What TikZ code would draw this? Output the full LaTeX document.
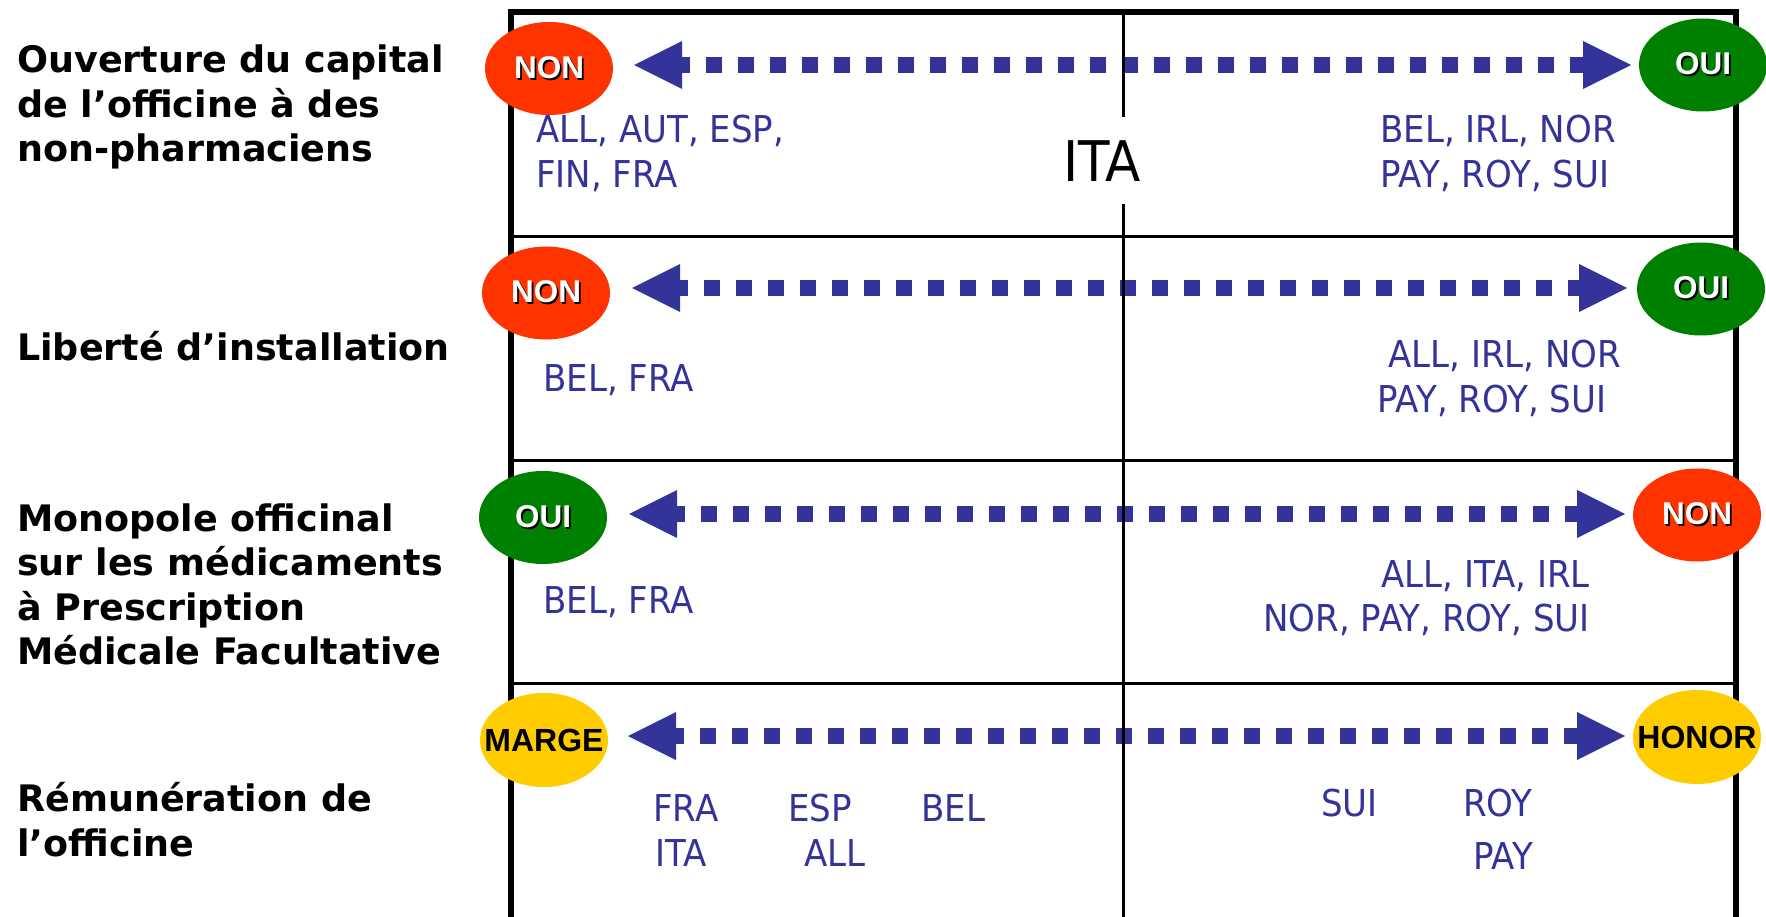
\documentclass[tikz,border=0pt]{standalone}
\usepackage{fontspec}
\setmainfont{DejaVu Sans}
\newfontfamily\bluefont[FakeStretch=0.92]{DejaVu Sans}
\newfontfamily\headfont{DejaVu Sans}
\newfontfamily\ovalfont{Liberation Sans}
\usetikzlibrary{arrows.meta,shapes.geometric}
\definecolor{tblue}{RGB}{51,51,153}
\definecolor{ored}{RGB}{255,51,0}
\definecolor{ogreen}{RGB}{0,128,0}
\definecolor{oyellow}{RGB}{255,204,0}
\newcommand\shtxt[1]{\makebox[0pt]{\rlap{\kern1.8pt\raisebox{-1.8pt}{\color{black}#1}}\color{white}#1}}
\newcommand\bktxt[1]{\makebox[0pt]{\color{black}#1}}
\tikzset{
  oval/.style={ellipse, minimum width=128pt, minimum height=93pt, inner sep=0pt,
    font=\ovalfont\bfseries\fontsize{31.5}{31.5}\selectfont},
  goval/.style={oval, minimum height=94pt, font=\ovalfont\bfseries\fontsize{32}{32}\selectfont},
  country/.style={anchor=base west, inner sep=0pt, text=tblue,
    font=\bluefont\fontsize{37}{44}\selectfont},
  rowlabel/.style={anchor=base west, inner sep=0pt,
    font=\headfont\bfseries\fontsize{36.5}{44}\selectfont},
  frameline/.style={line width=6pt},
  gridline/.style={line width=3pt},
  dblarrow/.style={draw=tblue, line width=16pt, dash pattern=on 16pt off 16pt, dash phase=8pt,
    arrows={Triangle[length=48pt,width=48pt,line width=0pt]-Triangle[length=48pt,width=48pt,line width=0pt]}}
}
\begin{document}
\begin{tikzpicture}[x=1pt,y=-1pt]
\useasboundingbox (0,0) rectangle (1766,917);
% arrows
\coordinate (a1l) at (634,65);  \coordinate (a1r) at (1631,65);
\coordinate (a2l) at (632,288); \coordinate (a2r) at (1627,288);
\coordinate (a3l) at (629,514); \coordinate (a3r) at (1625,514);
\coordinate (a4l) at (628,736); \coordinate (a4r) at (1625,736);
\draw[dblarrow] (a1l) -- (a1r);
\draw[dblarrow] (a2l) -- (a2r);
\draw[dblarrow] (a3l) -- (a3r);
\draw[dblarrow] (a4l) -- (a4r);
% frame and grid
\draw[frameline] (511,917) -- (511,12) -- (1736,12) -- (1736,917);
\draw[gridline] (511,237) -- (1736,237);
\draw[gridline] (511,460.5) -- (1736,460.5);
\draw[gridline] (511,683) -- (1736,683);
\draw[gridline] (1123,12) -- (1123,117);
\draw[gridline] (1123,204) -- (1123,917);
% ovals
\node[oval, fill=ored]    (o1l) at (549,68.5) {\shtxt{NON}};
\node[oval, fill=ogreen]  (o1r) at (1703,65)  {\shtxt{OUI}};
\node[oval, fill=ored]    (o2l) at (546,293)  {\shtxt{NON}};
\node[oval, fill=ogreen]  (o2r) at (1701,289) {\shtxt{OUI}};
\node[oval, fill=ogreen]  (o3l) at (543,517.5) {\shtxt{OUI}};
\node[oval, fill=ored]    (o3r) at (1697,515) {\shtxt{NON}};
\node[goval, fill=oyellow] (o4l) at (544,740) {\bktxt{MARGE}};
\node[goval, fill=oyellow] (o4r) at (1697,737) {\bktxt{HONOR}};
% row labels
\node[rowlabel] (r1a) at (17,73)  {Ouverture du capital};
\node[rowlabel] (r1b) at (17,117.5) {de l’officine à des};
\node[rowlabel] (r1c) at (17,162) {non-pharmaciens};
\node[rowlabel] (r2a) at (17,360) {Liberté d’installation};
\node[rowlabel] (r3a) at (17,531) {Monopole officinal};
\node[rowlabel] (r3b) at (17,575.5) {sur les médicaments};
\node[rowlabel] (r3c) at (17,620) {à Prescription};
\node[rowlabel] (r3d) at (17,664.5) {Médicale Facultative};
\node[rowlabel] (r4a) at (17,811.5) {Rémunération de};
\node[rowlabel] (r4b) at (17,856) {l’officine};
% country texts
\node[country] (c1a) at (536,143) {ALL, AUT, ESP,};
\node[country] (c1b) at (536,188) {FIN, FRA};
\node[country] (c1c) at (1380,143) {BEL, IRL, NOR};
\node[country] (c1d) at (1380,188) {PAY, ROY, SUI};
\node[country, text=black, font=\bluefont\fontsize{56}{60}\selectfont] (ita) at (1063,182) {ITA};
\node[country] (c2a) at (543,391) {BEL, FRA};
\node[country] (c2b) at (1388,367) {ALL, IRL, NOR};
\node[country] (c2c) at (1377,412) {PAY, ROY, SUI};
\node[country] (c3a) at (543,613) {BEL, FRA};
\node[country] (c3b) at (1381,587) {ALL, ITA, IRL};
\node[country] (c3c) at (1263,631) {NOR, PAY, ROY, SUI};
\node[country] (c4a) at (653,821) {FRA};
\node[country] (c4b) at (788,821) {ESP};
\node[country] (c4c) at (921,821) {BEL};
\node[country] (c4d) at (655,866) {ITA};
\node[country] (c4e) at (804,866) {ALL};
\node[country] (c4f) at (1321,816) {SUI};
\node[country] (c4g) at (1463,816) {ROY};
\node[country] (c4h) at (1473,869) {PAY};
\end{tikzpicture}
\end{document}
